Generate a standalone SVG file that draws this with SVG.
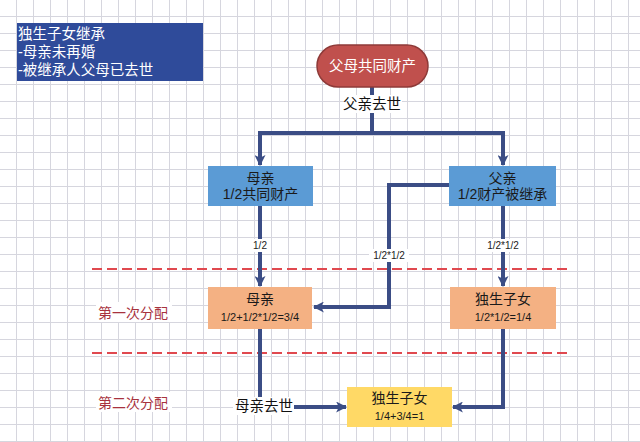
<svg xmlns="http://www.w3.org/2000/svg" width="640" height="442" viewBox="0 0 640 442">
<defs>
<pattern id="grid" x="16" y="16" width="17" height="17" patternUnits="userSpaceOnUse">
<path d="M0.5 0 V17 M0 0.5 H17" stroke="#d6d6de" stroke-width="1" fill="none"/>
</pattern>
<marker id="arr" viewBox="0 0 10 10" refX="9" refY="5" markerWidth="11" markerHeight="11" markerUnits="userSpaceOnUse" orient="auto">
<path d="M0 0 L10 5 L0 10 L2.5 5 Z" fill="#3b4d85"/>
</marker>
<style>
text{font-family:"Liberation Sans","Noto Sans CJK SC",sans-serif;text-anchor:middle}
.conn{fill:none;stroke:#3b4d85;stroke-width:4}
.lbl{font-size:10px;fill:#222}
.t{font-size:14px;fill:#1a1a1a}
.s{font-size:11px;fill:#1a1a1a}
.n{font-size:14.5px;fill:#ffffff;text-anchor:start}
.dash{stroke:#e0494f;stroke-width:2;stroke-dasharray:10 5;fill:none}
.stage{font-size:14px;fill:#a8323e;text-anchor:start}
</style>
</defs>
<rect width="640" height="442" fill="#ffffff"/>
<rect width="640" height="442" fill="url(#grid)"/>

<g id="note">
<rect x="17" y="23" width="186" height="58" fill="#2f4b9a"/>
<text class="n" x="18" y="39">独生子女继承</text>
<text class="n" x="18" y="57">-母亲未再婚</text>
<text class="n" x="18" y="75">-被继承人父母已去世</text>
</g>

<g id="dividers">
<line class="dash" x1="92" y1="269" x2="568" y2="269"/>
<line class="dash" x1="92" y1="353" x2="568" y2="353"/>
</g>

<g id="connectors">
<path class="conn" d="M372 87 V133"/>
<path class="conn" d="M260 133 H503" />
<path class="conn" d="M260 131 V165" marker-end="url(#arr)"/>
<path class="conn" d="M503 131 V165" marker-end="url(#arr)"/>
<path class="conn" d="M260 206 V286" marker-end="url(#arr)"/>
<path class="conn" d="M503 206 V286" marker-end="url(#arr)"/>
<path class="conn" d="M449 185 H389 V307 H314" marker-end="url(#arr)"/>
<path class="conn" d="M260 329 V398"/>
<path class="conn" d="M294 407 H346" marker-end="url(#arr)"/>
<path class="conn" d="M503 329 V407 H453" marker-end="url(#arr)"/>
<rect x="344" y="95" width="58" height="18" fill="#ffffff"/>
<text x="372" y="109" style="font-size:14.5px;fill:#111">父亲去世</text>
<rect x="249" y="239" width="22" height="13" fill="#ffffff"/>
<text class="lbl" x="260" y="249">1/2</text>
<rect x="483" y="239" width="40" height="13" fill="#ffffff"/>
<text class="lbl" x="503" y="249">1/2*1/2</text>
<rect x="369" y="249" width="40" height="13" fill="#ffffff"/>
<text class="lbl" x="389" y="259">1/2*1/2</text>
<rect x="233" y="397" width="61" height="18" fill="#ffffff"/>
<text x="264" y="411" style="font-size:14.5px;fill:#111">母亲去世</text>
</g>

<g id="root">
<rect x="317" y="45" width="111" height="42" rx="21" fill="#c0504d" stroke="#8e3a38" stroke-width="1.5"/>
<text x="372.5" y="71" style="font-size:14.5px;fill:#ffffff">父母共同财产</text>
</g>

<g id="mother1">
<rect x="208" y="166" width="105" height="40" fill="#5b9bd5"/>
<text class="t" x="260.5" y="183">母亲</text>
<text class="t" x="260.5" y="199">1/2共同财产</text>
</g>

<g id="father1">
<rect x="449" y="166" width="107" height="40" fill="#5b9bd5"/>
<text class="t" x="502.5" y="183">父亲</text>
<text class="t" x="502.5" y="199">1/2财产被继承</text>
</g>

<g id="stage1">
<rect x="96" y="302" width="76" height="20" fill="#ffffff"/>
<text class="stage" x="98" y="318">第一次分配</text>
</g>

<g id="mother2">
<rect x="208" y="287" width="104" height="42" fill="#f4b183"/>
<text class="t" x="260" y="304">母亲</text>
<text class="s" x="260" y="321">1/2+1/2*1/2=3/4</text>
</g>

<g id="child1">
<rect x="450" y="287" width="106" height="42" fill="#f4b183"/>
<text class="t" x="503" y="304">独生子女</text>
<text class="s" x="503" y="321">1/2*1/2=1/4</text>
</g>

<g id="stage2">
<rect x="96" y="392" width="76" height="20" fill="#ffffff"/>
<text class="stage" x="98" y="408">第二次分配</text>
</g>

<g id="child2">
<rect x="347" y="387" width="105" height="40" fill="#ffd966"/>
<text class="t" x="399.5" y="403">独生子女</text>
<text class="s" x="399.5" y="420">1/4+3/4=1</text>
</g>
</svg>
